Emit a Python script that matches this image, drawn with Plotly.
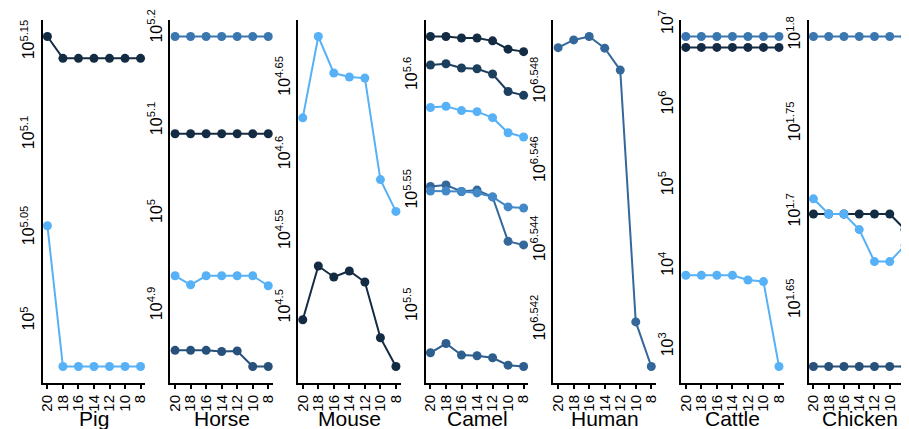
import numpy as np
import plotly.graph_objects as go

# ---------------- data ----------------
x_vals = [20, 18, 16, 14, 12, 10, 8]
panel_names = ["Pig", "Horse", "Mouse", "Camel", "Human", "Cattle", "Chicken"]

pig_a = [142200, 138400, 138400, 138400, 138400, 138400, 138400]
pig_b = [112500, 94500, 94500, 94500, 94500, 94500, 94500]

horse_a = [155300, 155300, 155300, 155300, 155300, 155300, 155300]
horse_b = [121900, 121900, 121900, 121900, 121900, 121900, 121900]
horse_c = [85600, 83700, 85600, 85600, 85600, 85600, 83500]
horse_d = [71100, 71100, 71100, 70900, 71000, 68300, 68300]

mouse_a = [42090, 47560, 45020, 44750, 44680, 38360, 36570]
mouse_b = [31080, 33690, 33140, 33440, 32890, 30250, 28970]

camel_a = [414000, 414000, 413400, 413400, 412200, 408800, 407800]
camel_b = [402400, 402900, 401200, 400900, 398800, 391900, 390400]
camel_c = [385700, 386200, 384500, 384100, 381800, 376100, 374500]
camel_d = [356500, 357000, 354700, 355200, 352800, 337500, 336300]
camel_e = [354900, 354900, 354700, 354200, 352800, 349300, 348900]
camel_f = [302000, 304800, 301300, 301100, 300500, 298300, 297900]

human_a = [3538900, 3540500, 3541200, 3538800, 3534300, 3483000, 3474000]

cattle_a = [7060000, 7060000, 7060000, 7060000, 7060000, 7060000, 7060000]
cattle_b = [5170000, 5170000, 5170000, 5170000, 5170000, 5170000, 5170000]
cattle_c = [7700, 7700, 7700, 7700, 6730, 6430, 568]

chicken_a = [63, 63, 63, 63, 63, 63, 63]
chicken_b = [50, 50, 50, 50, 50, 50, 49]
chicken_c = [51, 50, 50, 49, 47, 47, 48]
chicken_d = [41, 41, 41, 41, 41, 41, 41]

# tick exponents (labels shown as 10^e)
pig_ticks = [5, 5.05, 5.1, 5.15]
horse_ticks = [4.9, 5, 5.1, 5.2]
mouse_ticks = [4.5, 4.55, 4.6, 4.65]
camel_ticks = [5.5, 5.55, 5.6]
human_ticks = [6.542, 6.544, 6.546, 6.548]
cattle_ticks = [3, 4, 5, 6, 7]
chicken_ticks = [1.65, 1.7, 1.75, 1.8]

# ---------------- styles ----------------
C0 = "#132B43"
C1 = "#1D3F5E"
C2 = "#27507A"
C3 = "#2D5E8C"
C4 = "#34689B"
C5 = "#3A77B0"
C6 = "#4389C8"
C9 = "#56B1F7"

panels = [
    ([(pig_a, C0), (pig_b, C9)], pig_ticks),
    ([(horse_a, C5), (horse_b, C0), (horse_c, C9), (horse_d, C2)], horse_ticks),
    ([(mouse_a, C9), (mouse_b, C0)], mouse_ticks),
    ([(camel_a, C0), (camel_b, C1), (camel_c, C9), (camel_d, C4),
      (camel_e, C6), (camel_f, C3)], camel_ticks),
    ([(human_a, C4)], human_ticks),
    ([(cattle_a, C5), (cattle_b, C0), (cattle_c, C9)], cattle_ticks),
    ([(chicken_a, C5), (chicken_b, C0), (chicken_c, C9), (chicken_d, C2)], chicken_ticks),
]

PAGE_W, PAGE_H = 909, 429
OFF = 8                      # browser body margin
W, H = PAGE_W - OFF, PAGE_H - OFF
TOP, BOT = 20, 383           # page pixels of plot area
first_axis = 38.0            # page pixel of first y-axis line
period = 128.83
panel_w = 103.4
FONT = "Liberation Sans, Arial, sans-serif"

fig = go.Figure()
layout = {}
annotations = []

for i, (series, ticks) in enumerate(panels):
    sfx = "" if i == 0 else str(i + 1)
    xa, ya = "x" + sfx, "y" + sfx
    for vals, col in series:
        fig.add_trace(go.Scatter(
            x=x_vals, y=vals, mode="lines+markers",
            line=dict(color=col, width=2),
            marker=dict(color=col, size=9),
            xaxis=xa, yaxis=ya, showlegend=False, cliponaxis=False,
            hoverinfo="x+y",
        ))
    allv = np.array([v for vals, _ in series for v in vals], dtype=float)
    lo, hi = np.log10(allv.min()), np.log10(allv.max())
    pad = 0.05 * (hi - lo)

    left = first_axis + period * i - OFF
    right_nom = left + panel_w
    right = min(right_nom, W)
    xr = [20.6, 7.4] if right_nom <= W else [20.6, 7.87]

    layout["xaxis" + sfx] = dict(
        domain=[left / W, right / W], range=xr, anchor=ya,
        tickmode="array", tickvals=x_vals, ticktext=[str(v) for v in x_vals],
        tickangle=-90, tickfont=dict(size=15, color="black", family=FONT),
        ticks="outside", ticklen=4, tickwidth=1.5, tickcolor="black",
        showline=True, linecolor="black", linewidth=2,
        showgrid=False, zeroline=False, fixedrange=True,
    )
    layout["yaxis" + sfx] = dict(
        type="log", domain=[0, 1], range=[lo - pad, hi + pad], anchor=xa,
        tickmode="array", tickvals=[10 ** e for e in ticks],
        ticktext=["10<sup>%s</sup>" % format(e, "g") for e in ticks],
        tickangle=-90, tickfont=dict(size=16, color="black", family=FONT),
        ticks="", showline=True, linecolor="black", linewidth=2,
        showgrid=False, zeroline=False, fixedrange=True,
    )
    annotations.append(dict(
        text=panel_names[i], xref="paper", yref="paper",
        x=(left + right_nom) / 2 / W, y=(BOT - 418) / (BOT - TOP),
        xanchor="center", yanchor="middle", showarrow=False,
        font=dict(size=21, color="black", family=FONT),
    ))

fig.update_layout(
    **layout,
    annotations=annotations,
    width=W, height=H,
    margin=dict(l=0, r=0, t=TOP - OFF, b=H - (BOT - OFF), pad=0),
    paper_bgcolor="white", plot_bgcolor="white",
    font=dict(family=FONT, color="black"),
    showlegend=False,
)

fig.write_html("out.html")
